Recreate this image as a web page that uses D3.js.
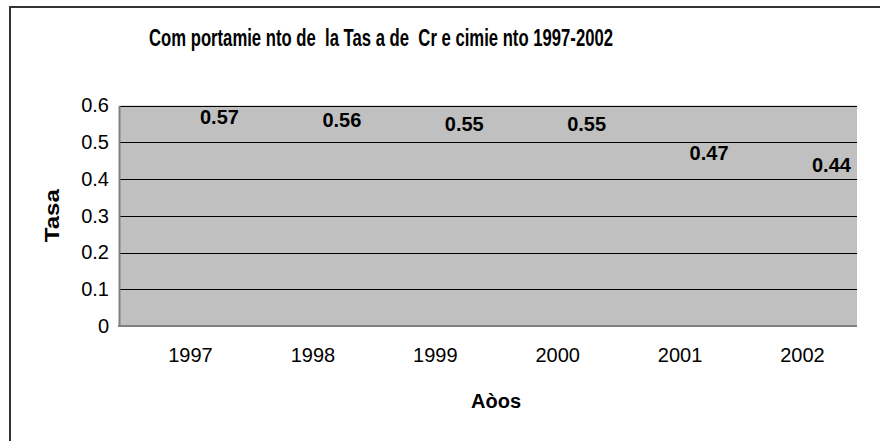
<!DOCTYPE html>
<html>
<head>
<meta charset="utf-8">
<script src="https://cdn.jsdelivr.net/npm/d3@7"></script>
<style>
  body { margin: 0; background: #fff; }
  svg { display: block; font-family: "Liberation Sans", Arial, sans-serif; }
</style>
</head>
<body>
<div id="chart"></div>
<script>
// chart data
const years = ["1997", "1998", "1999", "2000", "2001", "2002"];
const rates = [0.57, 0.56, 0.55, 0.55, 0.47, 0.44];
const yTicks = [0, 0.1, 0.2, 0.3, 0.4, 0.5, 0.6];
const chartTitle = "Com portamie nto de  la Tas a de  Cr e cimie nto 1997-2002";
const xTitle = "Aòos";
const yTitle = "Tasa";

const width = 880, height = 441;
const plot = { left: 119, right: 857, top: 105.5, bottom: 326 };

const svg = d3.select("#chart").append("svg")
    .attr("width", width).attr("height", height);

// outer chart frame (right/bottom edges fall outside the picture)
svg.append("rect")
    .attr("x", 10).attr("y", 7)
    .attr("width", width + 20).attr("height", height + 20)
    .attr("fill", "#fff").attr("stroke", "#333").attr("stroke-width", 2);

const x = d3.scalePoint().domain(years)
    .range([plot.left + 71, plot.right - 55]);
const y = d3.scaleLinear().domain([0, 0.6]).range([plot.bottom, plot.top]);

// plot area
svg.append("rect")
    .attr("x", plot.left).attr("y", plot.top)
    .attr("width", plot.right - plot.left).attr("height", plot.bottom - plot.top)
    .attr("fill", "#c0c0c0");

// gridlines
svg.append("g").selectAll("line").data(yTicks.filter(d => d > 0)).enter().append("line")
    .attr("x1", plot.left).attr("x2", plot.right)
    .attr("y1", d => Math.round(y(d)) + 0.5).attr("y2", d => Math.round(y(d)) + 0.5)
    .attr("stroke", "#000").attr("stroke-width", 1);

// y axis
const yAxis = svg.append("g")
    .attr("transform", `translate(${plot.left},0)`)
    .call(d3.axisLeft(y).tickValues(yTicks).tickSize(0).tickPadding(10)
        .tickFormat(d => d === 0 ? "0" : d3.format(".1f")(d)));
yAxis.select(".domain").attr("stroke", "#808080").attr("stroke-width", 2);
yAxis.selectAll("text").attr("font-size", 20).attr("fill", "#000")
    .attr("font-family", "Liberation Sans, Arial, sans-serif");

// x axis
const xAxis = svg.append("g")
    .attr("transform", `translate(0,${plot.bottom})`)
    .call(d3.axisBottom(x).tickSize(0).tickPadding(22));
xAxis.select(".domain").attr("d", `M${plot.left - 1},0H${plot.right}`)
    .attr("stroke", "#808080").attr("stroke-width", 2);
xAxis.selectAll("text").attr("font-size", 20).attr("fill", "#000")
    .attr("font-family", "Liberation Sans, Arial, sans-serif");

// data labels (series line itself has no visible line or markers)
svg.append("g").selectAll("text").data(rates).enter().append("text")
    .attr("x", (d, i) => x(years[i]) + 10)
    .attr("y", d => y(d))
    .attr("dy", "0.36em")
    .attr("font-size", 20).attr("font-weight", "bold")
    .text(d => d3.format(".2f")(d));

// titles
svg.append("text")
    .attr("x", 381).attr("y", 46)
    .attr("text-anchor", "middle")
    .attr("font-size", 23).attr("font-weight", "bold")
    .attr("textLength", 464).attr("lengthAdjust", "spacingAndGlyphs")
    .style("white-space", "pre")
    .text(chartTitle);

svg.append("text")
    .attr("x", (x(years[0]) + x(years[years.length - 1])) / 2).attr("y", 408)
    .attr("text-anchor", "middle")
    .attr("font-size", 20).attr("font-weight", "bold")
    .text(xTitle);

svg.append("text")
    .attr("transform", `translate(59,${(plot.top + plot.bottom) / 2}) rotate(-90)`)
    .attr("text-anchor", "middle")
    .attr("font-size", 21).attr("font-weight", "bold")
    .attr("textLength", 53).attr("lengthAdjust", "spacingAndGlyphs")
    .text(yTitle);
</script>
</body>
</html>
